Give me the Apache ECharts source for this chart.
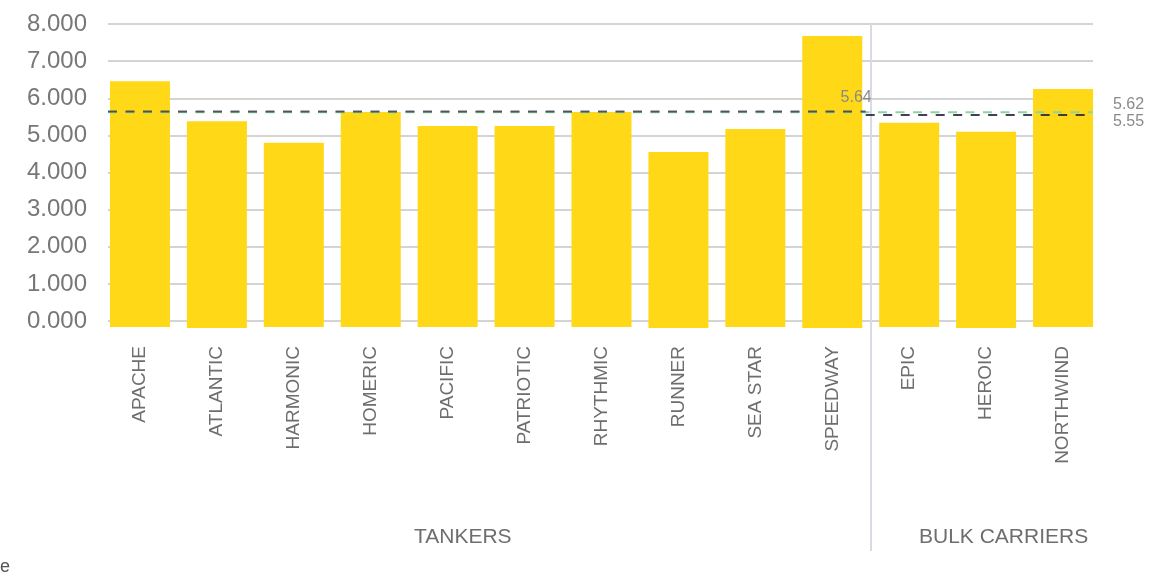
<!DOCTYPE html>
<html>
<head>
<meta charset="utf-8">
<script src="https://cdn.jsdelivr.net/npm/echarts@6.0.0/dist/echarts.min.js"></script>
<style>
  html, body { margin: 0; padding: 0; background: #fff; }
  #containerC { width: 1160px; height: 585px; }
</style>
</head>
<body>
<div id="containerC"></div>
<script>
// ships, grouped: first 10 tankers, last 3 bulk carriers
var ships = ['APACHE', 'ATLANTIC', 'HARMONIC', 'HOMERIC', 'PACIFIC', 'PATRIOTIC', 'RHYTHMIC',
             'RUNNER', 'SEA STAR', 'SPEEDWAY', 'EPIC', 'HEROIC', 'NORTHWIND'];
var values = [6.46, 5.38, 4.80, 5.63, 5.25, 5.25, 5.63, 4.55, 5.17, 7.68, 5.34, 5.10, 6.25];
// small part of each bar that hangs below the zero line in the original
var belowZero = [-0.16, -0.19, -0.16, -0.16, -0.16, -0.16, -0.16, -0.19, -0.16, -0.19, -0.16, -0.19, -0.16];
var groups = ['TANKERS', 'BULK CARRIERS'];
var groupSizes = [10, 3];
var groupAvg = [5.64, 5.55];
var overallAvg = 5.62;
var yTicks = [0, 8, 1]; // min, max, interval

var dom = document.getElementById('containerC');
var myChart = echarts.init(dom, null, { renderer: 'canvas' });

var font = "'Liberation Sans', Arial, sans-serif";
var nTotal = groupSizes[0] + groupSizes[1];

var option = {
    backgroundColor: '#fff',
    animation: false,
    grid: [
        { left: 108, right: 67, top: 24, bottom: 264 },      // grid lines + avg lines
        { left: 101.5, right: 58.5, top: 24, bottom: 264 }   // bars
    ],
    xAxis: [
        { gridIndex: 0, type: 'value', min: 0, max: nTotal, show: false },
        {
            gridIndex: 1, type: 'category', data: ships,
            axisLine: { show: false }, axisTick: { show: false },
            axisLabel: { rotate: 90, margin: 25, fontSize: 19, color: '#6e6e6e', fontFamily: font }
        }
    ],
    yAxis: [
        {
            gridIndex: 0, type: 'value', min: yTicks[0], max: yTicks[1], interval: yTicks[2],
            axisLine: { show: false }, axisTick: { show: false },
            axisLabel: {
                margin: 21, fontSize: 24, color: '#777', fontFamily: font,
                formatter: function (v) { return v.toFixed(3); }
            },
            splitLine: { lineStyle: { color: '#d4d4d4', width: 2 } }
        },
        { gridIndex: 1, type: 'value', min: yTicks[0], max: yTicks[1], interval: yTicks[2], show: false }
    ],
    series: [
        {
            type: 'bar', xAxisIndex: 1, yAxisIndex: 1, stack: 'ship', barWidth: 60, clip: false,
            itemStyle: { color: '#FFD817' }, data: values, z: 2
        },
        {
            type: 'bar', xAxisIndex: 1, yAxisIndex: 1, stack: 'ship', barWidth: 60, clip: false,
            itemStyle: { color: '#FFD817' }, data: belowZero, z: 2
        },
        {
            type: 'line', xAxisIndex: 0, yAxisIndex: 0, symbol: 'none', z: 5,
            lineStyle: { color: '#8fd3a0', width: 2, type: [9, 8.5] },
            data: [[0, overallAvg], [nTotal, overallAvg]]
        },
        {
            type: 'line', xAxisIndex: 0, yAxisIndex: 0, symbol: 'none', z: 6,
            lineStyle: { color: 'rgba(30,32,60,0.7)', width: 2, type: [9, 8.5] },
            data: [[0, groupAvg[0]], [groupSizes[0], groupAvg[0]]]
        },
        {
            type: 'line', xAxisIndex: 0, yAxisIndex: 0, symbol: 'none', z: 6,
            lineStyle: { color: 'rgba(30,32,60,0.85)', width: 2, type: [9, 8.5] },
            data: [[groupSizes[0], groupAvg[1]], [nTotal, groupAvg[1]]]
        }
    ]
};

myChart.setOption(option);

// annotations placed from the chart's own scales
var pTank = myChart.convertToPixel({ gridIndex: 0 }, [groupSizes[0], groupAvg[0]]);
var pAll = myChart.convertToPixel({ gridIndex: 0 }, [nTotal, overallAvg]);
var pBulk = myChart.convertToPixel({ gridIndex: 0 }, [nTotal, groupAvg[1]]);
var c9 = myChart.convertToPixel({ xAxisIndex: 1 }, groupSizes[0] - 1);
var c10 = myChart.convertToPixel({ xAxisIndex: 1 }, groupSizes[0]);
var divX = Math.round((c9 + c10) / 2);
var topY = myChart.convertToPixel({ yAxisIndex: 0 }, yTicks[1]);

function label(txt, x, y, align, size, color) {
    return {
        type: 'text', x: x, y: y, z: 10,
        style: { text: txt, align: align, verticalAlign: 'middle', fill: color,
                 font: size + 'px ' + font }
    };
}

myChart.setOption({
    graphic: [
        {
            type: 'line', z: 1,
            shape: { x1: divX, y1: topY, x2: divX, y2: 551 },
            style: { stroke: '#d8dce2', lineWidth: 2 }
        },
        label(groupAvg[0].toFixed(2), pTank[0] + 6, pTank[1] - 14, 'right', 16, '#8a8a8a'),
        label(overallAvg.toFixed(2), pAll[0] + 20, pAll[1] - 8, 'left', 16, '#8a8a8a'),
        label(groupAvg[1].toFixed(2), pBulk[0] + 20, pBulk[1] + 7, 'left', 16, '#8a8a8a'),
        label(groups[0], 414, 537, 'left', 21, '#6e6e6e'),
        label(groups[1], 919, 537, 'left', 21, '#6e6e6e'),
        label('e', 0, 567, 'left', 18, '#555')
    ]
});

window.addEventListener('resize', myChart.resize);
</script>
</body>
</html>
